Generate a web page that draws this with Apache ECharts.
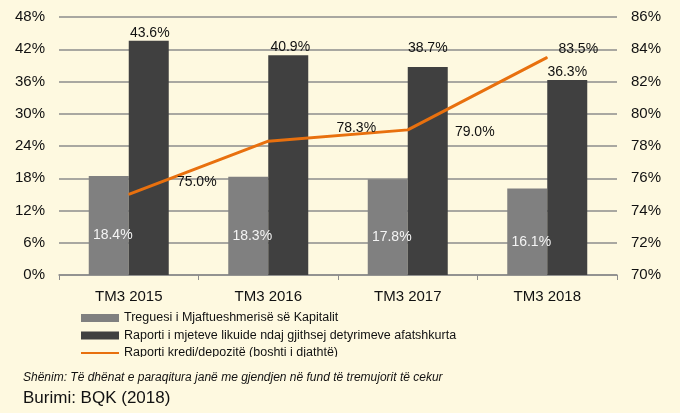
<!DOCTYPE html>
<html>
<head>
<meta charset="utf-8">
<script src="https://cdn.jsdelivr.net/npm/echarts@6/dist/echarts.min.js"></script>
<style>
  html, body { margin: 0; padding: 0; background: #FEF9E0; }
  #chart { width: 680px; height: 413px; }
</style>
</head>
<body>
<div id="chart"></div>
<script>
  // data
  var categories = ['TM3 2015', 'TM3 2016', 'TM3 2017', 'TM3 2018'];
  var capitalRatio = [18.4, 18.3, 17.8, 16.1];
  var liquidRatio = [43.6, 40.9, 38.7, 36.3];
  var loanDeposit = [75.0, 78.3, 79.0, 83.5];

  var seriesNames = [
    'Treguesi i Mjaftueshmerisë së Kapitalit',
    'Raporti i mjeteve likuide ndaj gjithsej detyrimeve afatshkurta',
    'Raporti kredi/depozitë (boshti i djathtë)'
  ];

  // label placement, as in the original
  var lineLabelOffsets = [[68, -12], [88, -13], [67, 2], [31, -8]];
  var liquidLabelOffsets = [[1, 0], [2, 0], [0, -11], [0, 0]];

  var font = 'Liberation Sans, Arial, sans-serif';
  var bg = '#FEF9E0';
  var pct = function (p) { return p.value.toFixed(1) + '%'; };

  var chart = echarts.init(document.getElementById('chart'));

  var lineData = loanDeposit.map(function (v, i) {
    return { value: v, label: { offset: lineLabelOffsets[i] } };
  });
  var liquidData = liquidRatio.map(function (v, i) {
    return { value: v, label: { offset: liquidLabelOffsets[i] } };
  });

  chart.setOption({
    backgroundColor: bg,
    animation: false,
    textStyle: { fontFamily: font },
    grid: { left: 59, right: 63, top: 17, bottom: 138 },
    legend: {
      orient: 'vertical',
      left: 80,
      top: 311,
      padding: 0,
      itemWidth: 38,
      itemHeight: 8,
      itemGap: 3.5,
      textStyle: { fontFamily: font, fontSize: 12.5, color: '#111', lineHeight: 14 },
      data: [
        { name: seriesNames[0], icon: 'rect' },
        { name: seriesNames[1], icon: 'rect' },
        { name: seriesNames[2], itemStyle: { opacity: 0 } }
      ]
    },
    xAxis: {
      type: 'category',
      data: categories,
      axisLine: { lineStyle: { color: '#8c8c8c', width: 1.5 } },
      axisTick: { show: true, length: 5, lineStyle: { color: '#8c8c8c' } },
      axisLabel: { color: '#111', fontSize: 15, margin: 14, fontFamily: font }
    },
    yAxis: [
      {
        type: 'value',
        min: 0, max: 48, interval: 6,
        axisLabel: { formatter: '{value}%', color: '#111', fontSize: 15, margin: 14, fontFamily: font },
        axisLine: { show: false },
        axisTick: { show: false },
        splitLine: { lineStyle: { color: '#8c8c8c', width: 1.5 } }
      },
      {
        type: 'value',
        min: 70, max: 86, interval: 2,
        axisLabel: { formatter: '{value}%', color: '#111', fontSize: 15, margin: 14, fontFamily: font },
        axisLine: { show: false },
        axisTick: { show: false },
        splitLine: { show: false }
      }
    ],
    series: [
      {
        name: seriesNames[0],
        type: 'bar',
        data: capitalRatio,
        barWidth: 40,
        barGap: '0%',
        itemStyle: { color: '#808080' },
        label: {
          show: true,
          position: 'inside',
          offset: [4, 10],
          color: '#f4f4f4',
          fontSize: 14,
          fontFamily: font,
          formatter: pct
        }
      },
      {
        name: seriesNames[1],
        type: 'bar',
        data: liquidData,
        barWidth: 40,
        barGap: '0%',
        itemStyle: { color: '#404040' },
        label: {
          show: true,
          position: 'top',
          distance: 1,
          color: '#111',
          fontSize: 14,
          fontFamily: font,
          formatter: pct
        }
      },
      {
        name: seriesNames[2],
        type: 'line',
        yAxisIndex: 1,
        data: lineData,
        symbol: 'circle',
        symbolSize: 1,
        showSymbol: true,
        lineStyle: { color: '#E8700E', width: 3 },
        itemStyle: { color: '#E8700E' },
        z: 5,
        label: {
          show: true,
          position: 'inside',
          color: '#111',
          fontSize: 14,
          fontFamily: font,
          formatter: pct
        }
      }
    ],
    graphic: [
      {
        type: 'rect',
        left: 0, top: 357, z: 100,
        shape: { width: 680, height: 10 },
        style: { fill: bg }
      },
      {
        type: 'text',
        left: 23, top: 372, z: 101,
        style: {
          text: 'Shënim: Të dhënat e paraqitura janë me gjendjen në fund të tremujorit të cekur',
          font: 'italic 12px ' + font,
          fill: '#111'
        }
      },
      {
        type: 'text',
        left: 23, top: 390, z: 101,
        style: {
          text: 'Burimi: BQK (2018)',
          font: '17px ' + font,
          fill: '#111'
        }
      }
    ]
  });
</script>
</body>
</html>
